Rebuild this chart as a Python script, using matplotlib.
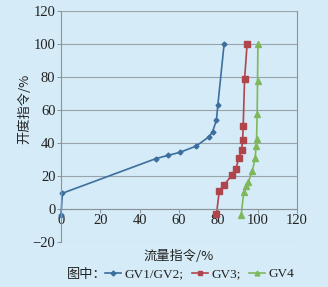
import matplotlib.pyplot as plt
from matplotlib.lines import Line2D

plt.rcParams['font.family'] = ['Liberation Serif', 'Noto Sans CJK SC', 'DejaVu Sans']

# 流量指令 (x) / 开度指令 (y)
gv12_x = [0, 0.7, 48.3, 54.6, 60.5, 68.6, 75.4, 77.1, 79.1, 79.8, 83.0]
gv12_y = [-3.5, 9.5, 30.5, 32.5, 34.3, 38.0, 43.8, 46.7, 53.9, 63.0, 100]
gv3_x = [79.1, 80.5, 83.0, 87.1, 89.0, 90.5, 91.9, 92.4, 92.7, 93.4, 94.7]
gv3_y = [-3.2, 10.6, 14.6, 20.7, 24.4, 30.9, 35.8, 41.5, 50.0, 78.5, 100]
gv4_x = [91.7, 93.0, 94.0, 95.4, 97.4, 98.8, 99.3, 99.5, 99.8, 100.0, 100.2]
gv4_y = [-3.7, 10.5, 14.0, 16.6, 23.2, 30.9, 38.0, 42.5, 57.3, 77.3, 100]

bg = '#d5ebf7'
blue = '#3c6e9e'
red = '#b0454c'
green = '#7fb85c'
cjk = ['Noto Sans CJK SC', 'DejaVu Sans']

fig = plt.figure(figsize=(3.28, 2.87), dpi=100, facecolor=bg)
ax = fig.add_axes([0.186, 0.157, 0.719, 0.805], facecolor=bg)

ax.plot(gv12_x, gv12_y, color=blue, marker='D', markersize=2.5, lw=1.2, clip_on=False)
ax.plot(gv3_x, gv3_y, color=red, marker='s', markersize=4, lw=1.2, clip_on=False)
ax.plot(gv4_x, gv4_y, color=green, marker='^', markersize=4, lw=1.2, clip_on=False)

ax.set_xlim(0, 120)
ax.set_ylim(-20, 120)
ax.set_xticks(range(0, 121, 20))
ax.set_yticks(range(-20, 121, 20))
ax.set_yticklabels(['\u221220'] + [str(v) for v in range(0, 121, 20)])
ax.grid(axis='y', color='#9aa3ab', lw=0.8)
ax.set_axisbelow(True)

ax.spines['bottom'].set_position(('data', 0))
ax.spines['top'].set_visible(False)
for s in ['left', 'right', 'bottom']:
    ax.spines[s].set_color('#8a939b')
ax.spines['right'].set_bounds(0, 120)
ax.tick_params(labelsize=10.5, colors='#8a939b', labelcolor='#222222',
               length=3, width=0.7, pad=1)

fig.text(0.545, 0.105, '流量指令/%', ha='center', va='center', fontsize=9.5,
         family=cjk, color='#222222')
fig.text(0.075, 0.62, '开度指令/%', ha='center', va='center', fontsize=9.5,
         rotation=90, family=cjk, color='#222222')

fig.text(0.205, 0.045, '图中：', ha='left', va='center', fontsize=9.5,
         family=cjk, color='#222222')
handles = [Line2D([], [], color=blue, marker='D', markersize=2.5, lw=1.2),
           Line2D([], [], color=red, marker='s', markersize=3.5, lw=1.2),
           Line2D([], [], color=green, marker='^', markersize=3.5, lw=1.2)]
fig.legend(handles, ['GV1/GV2;', 'GV3;', 'GV4'], loc='center left',
           bbox_to_anchor=(0.3, 0.045), ncol=3, frameon=False, fontsize=9.5,
           handlelength=1.2, handletextpad=0.3, columnspacing=0.6, borderpad=0,
           labelcolor='#222222')

fig.savefig('out.png', dpi=100, facecolor=bg)
